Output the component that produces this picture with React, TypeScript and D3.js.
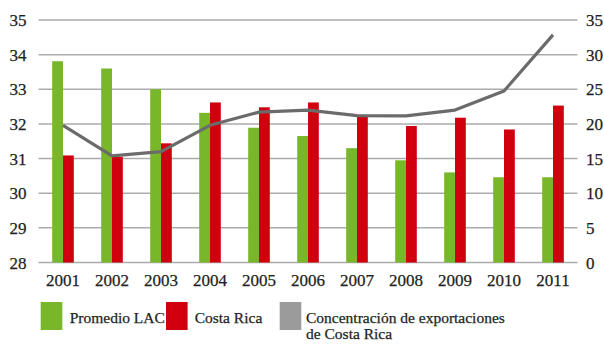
import React from "react";
import * as d3 from "d3";

const years = ["2001", "2002", "2003", "2004", "2005", "2006", "2007", "2008", "2009", "2010", "2011"];
const promedioLAC = [33.81, 33.6, 33.0, 32.32, 31.89, 31.65, 31.3, 30.95, 30.6, 30.46, 30.46];
const costaRica = [31.09, 31.05, 31.44, 32.62, 32.48, 32.62, 32.21, 31.94, 32.18, 31.84, 32.53];
const concentracion = [19.8, 15.4, 16.0, 19.8, 21.7, 22.0, 21.2, 21.15, 22.0, 24.75, 32.85];
const leftTicks = [28, 29, 30, 31, 32, 33, 34, 35];
const rightTicks = [0, 5, 10, 15, 20, 25, 30, 35];

const W = 604;
const H = 360;
const plot = { left: 38.5, right: 577.5, top: 20, bottom: 262.5 };
const FONT = "Liberation Serif";
const INK = "#231f20";
const GREEN = "#78b62a";
const RED = "#d0000f";
const LINE = "#6b6b6b";
const GRID = "#ababab";

export default function App() {
  const x = d3.scaleBand<string>().domain(years).range([plot.left, plot.right]).paddingInner(0).paddingOuter(0);
  const yL = d3.scaleLinear().domain([28, 35]).range([plot.bottom, plot.top]);
  const yR = d3.scaleLinear().domain([0, 35]).range([plot.bottom, plot.top]);
  const barW = 10.8;
  const center = (yr: string) => (x(yr) as number) + x.bandwidth() / 2;

  const line = d3
    .line<number>()
    .x((_, i) => center(years[i]))
    .y((d) => yR(d));

  const textStyle = { fontFamily: FONT, fill: INK, stroke: INK, strokeWidth: 0.25 };

  return (
    <svg width={W} height={H} style={{ position: "absolute", left: 0, top: 0, background: "#fff" }}>
      {leftTicks.map((t) => (
        <line key={"g" + t} x1={plot.left} x2={plot.right} y1={yL(t)} y2={yL(t)} stroke={GRID} strokeWidth={1.5} />
      ))}
      {leftTicks.map((t) => (
        <text key={"l" + t} x={26.5} y={yL(t)} dy="0.36em" textAnchor="end" fontSize={17} {...textStyle}>
          {t}
        </text>
      ))}
      {rightTicks.map((t) => (
        <text key={"r" + t} x={586} y={yR(t)} dy="0.36em" textAnchor="start" fontSize={17} {...textStyle}>
          {t}
        </text>
      ))}
      {years.map((yr, i) => {
        const cx = center(yr);
        return (
          <g key={yr}>
            <rect x={cx - barW} y={yL(promedioLAC[i])} width={barW} height={plot.bottom - yL(promedioLAC[i])} fill={GREEN} />
            <rect x={cx} y={yL(costaRica[i])} width={barW} height={plot.bottom - yL(costaRica[i])} fill={RED} />
            <text x={cx} y={285.5} textAnchor="middle" fontSize={17} {...textStyle}>
              {yr}
            </text>
          </g>
        );
      })}
      <path d={line(concentracion) || ""} fill="none" stroke={LINE} strokeWidth={3.2} strokeLinejoin="round" />
      <g fontSize={15.5}>
        <rect x={40.7} y={302} width={21.6} height={28} fill={GREEN} />
        <text x={69.7} y={322.5} {...textStyle}>Promedio LAC</text>
        <rect x={166} y={302} width={21.6} height={28} fill={RED} />
        <text x={194.7} y={322.5} {...textStyle}>Costa Rica</text>
        <rect x={279.7} y={302} width={21.6} height={28} fill="#9b9b9b" />
        <text x={306} y={322.5} {...textStyle}>Concentración de exportaciones</text>
        <text x={306} y={339} {...textStyle}>de Costa Rica</text>
      </g>
    </svg>
  );
}
